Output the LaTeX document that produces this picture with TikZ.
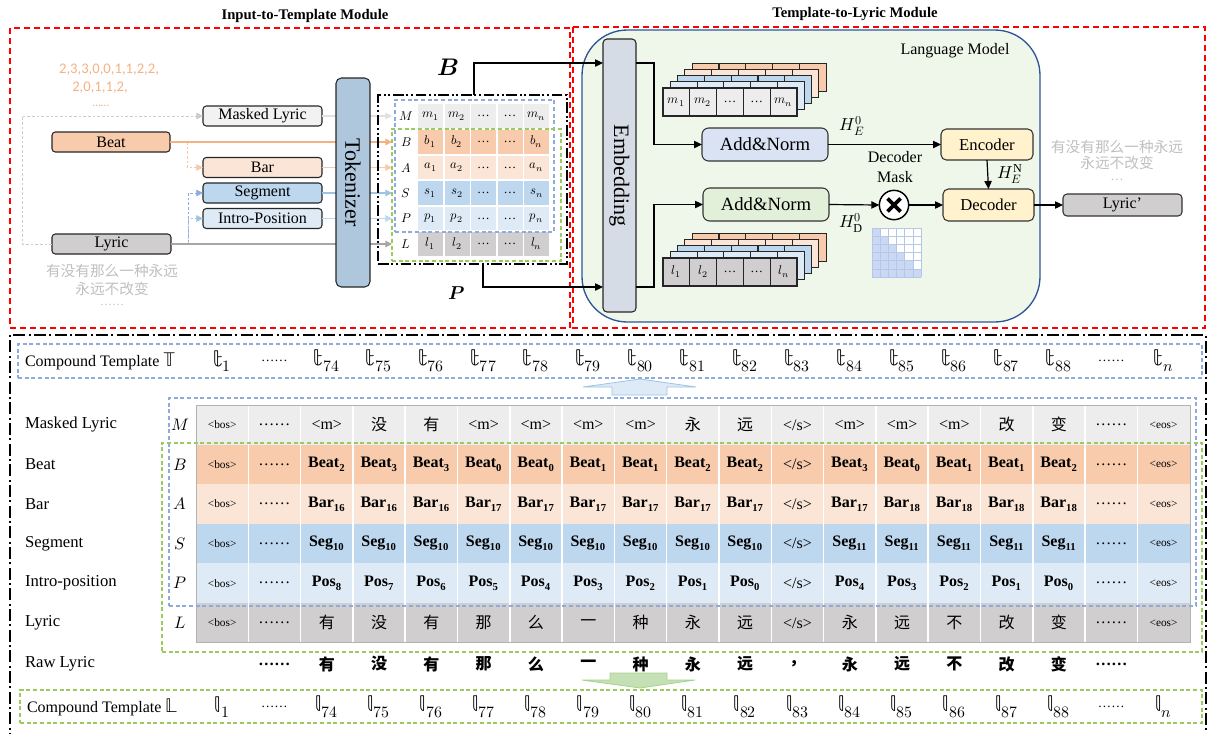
\documentclass[tikz,border=0pt]{standalone}
\usepackage{fontspec}
\usepackage{unicode-math}
\setmainfont{Liberation Serif}
\setmathfont{Latin Modern Math}
\newfontfamily\cjk{Noto Sans CJK SC}
\newfontfamily\calfont{Carlito}
\usetikzlibrary{arrows.meta,fit,calc}
\definecolor{cOr}{HTML}{F8CBAD}
\definecolor{cOrL}{HTML}{FBE5D6}
\definecolor{cOrT}{HTML}{F4B183}
\definecolor{cBl}{HTML}{BDD7EE}
\definecolor{cBlL}{HTML}{DEEBF7}
\definecolor{cBlD}{HTML}{8FAADC}
\definecolor{cBlM}{HTML}{9DC3E6}
\definecolor{cGrM}{HTML}{EDEDED}
\definecolor{cGrML}{HTML}{F2F2F2}
\definecolor{cGrL}{HTML}{D0CECE}
\definecolor{cTok}{HTML}{AFC7DD}
\definecolor{cEmb}{HTML}{D6DCE5}
\definecolor{cLM}{HTML}{EFF6EA}
\definecolor{cLMb}{HTML}{2F5597}
\definecolor{cANa}{HTML}{DAE3F3}
\definecolor{cANb}{HTML}{E2F0D9}
\definecolor{cEnc}{HTML}{FFF2CC}
\definecolor{cDashG}{HTML}{9BCB5F}
\definecolor{cArrDn}{HTML}{C5E0B4}
\definecolor{cArrDnB}{HTML}{A9D18E}
\definecolor{cMask}{HTML}{CAD8F4}
\definecolor{cMaskL}{HTML}{B4C7E7}
\definecolor{cGrT}{HTML}{BFBFBF}
\newcommand\zh[1]{{\cjk #1}}
\newcommand\zhb[1]{{\cjk\bfseries #1}}
\newcommand\tbos{{\fontsize{8.5}{9}\selectfont<bos>}}
\newcommand\teos{{\fontsize{8.5}{9}\selectfont<eos>}}
\newcommand\tes{</s>}
\newcommand\tmk{<m>}
\newcommand\tdots{……}
\newcommand\Bt[1]{\textbf{Beat\textsubscript{#1}}}
\newcommand\Ba[1]{\textbf{Bar\textsubscript{#1}}}
\newcommand\Sg[1]{\textbf{Seg\textsubscript{#1}}}
\newcommand\Ps[1]{\textbf{Pos\textsubscript{#1}}}
\newcommand\tabrow[3]{\foreach \c [count=\i] in {#3} {\node (#1\i) at ({196+52.3*(\i-0.5)},#2) {\c};}}
\begin{document}
\begin{tikzpicture}[x=0.75pt,y=-0.75pt,
  every node/.style={inner sep=0pt, outer sep=0pt},
  font=\fontsize{12}{14}\selectfont,
  wh/.style 2 args={minimum width=#1*0.75pt, minimum height=#2*0.75pt},
  bbox/.style={draw=black!85, line width=0.8pt, rounded corners=2.5pt, inner sep=0pt},
  tipa/.style={-{Triangle[length=5pt,width=5pt]}},
  arr/.style={draw=black, line width=0.9pt, -{Triangle[length=6pt,width=5.5pt]}},
  reddash/.style={draw=red, line width=1pt, dash pattern=on 4.5pt off 3pt},
  bdash/.style={draw=cBlD, line width=0.8pt, dash pattern=on 3pt off 2pt},
  gdash/.style={draw=cDashG, line width=0.9pt, dash pattern=on 3pt off 2pt},
  stk/.style={draw=black!85, line width=0.8pt},
  mcell/.style={font=\fontsize{9.5}{11}\selectfont},
  hlab/.style={font=\fontsize{13}{15}\selectfont}
]
\useasboundingbox (0,0) rectangle (1210,733);
% ---------------- top: titles and module frames
\node[font=\bfseries\fontsize{11}{13}\selectfont] (ttl1) at (305,16) {Input-to-Template Module};
\node[font=\bfseries\fontsize{11}{13}\selectfont] (ttl2) at (855,14) {Template-to-Lyric Module};
\draw[reddash] (10,28) rectangle (570,328);
\draw[reddash] (573,27) rectangle (1205,328);
% orange numbers
\node[font=\calfont\fontsize{11}{12}\selectfont, text=cOrT] (num1) at (109,70) {2,3,3,0,0,1,1,2,2,};
\node[font=\calfont\fontsize{11}{12}\selectfont, text=cOrT] (num2) at (100,88) {2,0,1,1,2,};
\node[font=\calfont\fontsize{9}{10}\selectfont, text=cOrT] (num3) at (101,106) {……};
% input boxes
\node[bbox, fill=cGrML, wh={119}{20}] (ml) at (262.5,116) {Masked Lyric};
\node[bbox, fill=cOr, wh={118}{20}] (beat) at (111,142) {Beat};
\node[bbox, fill=cOrL, wh={119}{20}] (bar) at (262.5,167.5) {Bar};
\node[bbox, fill=cBl, wh={119}{20}] (seg) at (262.5,193) {Segment};
\node[bbox, fill=cBlL, wh={119}{20}] (intro) at (262.5,218.5) {Intro-Position};
\node[bbox, fill=cGrL, wh={119}{20}] (lyric) at (111.5,244) {Lyric};
\node[font=\cjk\fontsize{11}{13}\selectfont, text=cGrT] (zl1) at (112,271) {有没有那么一种永远};
\node[font=\cjk\fontsize{11}{13}\selectfont, text=cGrT] (zl2) at (112,289) {永远不改变};
\node[font=\fontsize{9}{10}\selectfont, text=cGrT] (zl3) at (112,305) {……};
% arrow tips at the template
\coordinate (tipM) at (392,116);
\coordinate (tipB) at (392,142);
\coordinate (tipA) at (392,167.5);
\coordinate (tipS) at (392,193);
\coordinate (tipP) at (392,218.5);
\coordinate (tipL) at (392,244);
% connectors of the input module
\draw[draw=black!20, line width=0.6pt, dash pattern=on 2pt off 1.5pt, tipa] (lyric.west) -- ++(-30,0) |- (ml.west);
\draw[draw=cOrT, line width=0.6pt, dash pattern=on 2pt off 1.5pt, tipa, color=cOrT!70] ($(beat.east)+(17,0)$) |- (bar.west);
\draw[draw=cBlD, line width=0.6pt, dash pattern=on 2pt off 1.5pt, tipa] (lyric.east) -- ++(17,0) |- (seg.west);
\draw[draw=cBlM, line width=0.6pt, dash pattern=on 2pt off 1.5pt, tipa] ($(lyric.east)+(17,0)$) |- (intro.west);
\draw[draw=black!12, line width=0.8pt, tipa] (ml.east) -- (tipM);
\draw[draw=cOrT, line width=0.8pt, tipa] (beat.east) -- (tipB);
\draw[draw=cOr, line width=0.8pt, tipa] (bar.east) -- (tipA);
\draw[draw=cBlM, line width=0.8pt, tipa] (seg.east) -- (tipS);
\draw[draw=cBl, line width=0.8pt, tipa] (intro.east) -- (tipP);
\draw[draw=black!35, line width=0.8pt, tipa] (lyric.east) -- (tipL);
% tokenizer
\node[draw=black!85, line width=0.8pt, rounded corners=4pt, fill=cTok, wh={34}{209}] (tok) at (353,182.5) {};
\node[rotate=-90, font=\fontsize{16.5}{18}\selectfont] (toktxt) at (tok.center) {Tokenizer};
% template matrix
\foreach \r/\col/\yy in {0/cGrM/116,1/cOr/142,2/cOrL/167.5,3/cBl/193,4/cBlL/218.5,5/cGrL/244}
  \foreach \j in {0,...,4}
    \fill[\col] ({418+26.5*\j},{\yy-11.75}) rectangle ++(25,23.5);
\begin{scope}[mcell]
\foreach \t/\yy/\nm in {M/116/rM,B/142/rB,A/167.5/rA,S/193/rS,P/218.5/rP,L/244/rL}
  \node (\nm) at (406,\yy) {$\t$};
\foreach \a/\yy/\nm in {m/116/qM,b/142/qB,a/167.5/qA,s/193/qS,p/218.5/qP,l/244/qL}{
  \node (\nm1) at (430.5,\yy) {$\a_1$};
  \node (\nm2) at (457,\yy) {$\a_2$};
  \node (\nm3) at (483.5,\yy) {…};
  \node (\nm4) at (510,\yy) {…};
  \node (\nm5) at (536.5,\yy) {$\a_n$};}
\end{scope}
\node[bdash, fit={(395,100)(554,232)}] (tplB) {};
\node[gdash, fit={(392,129)(561,261)}] (tplP) {};
\node[draw=black, line width=1.6pt, dash pattern=on 8pt off 2pt on 1.5pt off 2pt on 1.5pt off 2pt, fit={(378,95)(567,264)}] (tpl) {};
\node[font=\fontsize{18}{20}\selectfont] (labB) at (448,67) {$\symbfit{B}$};
\node[font=\fontsize{14}{16}\selectfont] (labP) at (457,293) {$\symbfit{P}$};
% ---------------- language model
\draw[draw=cLMb, fill=cLM, line width=1pt, rounded corners=34pt] (582,30) rectangle (1040,322);
\node (lmtxt) at (955,51) {Language Model};
\node[draw=black!85, line width=0.8pt, rounded corners=3pt, fill=cEmb, wh={33}{273}] (emb) at (619.5,175.5) {};
\node[rotate=-90, font=\fontsize{16.5}{18}\selectfont] (embtxt) at (emb.center) {Embedding};
\coordinate (bsrc) at (474,95);
\coordinate (psrc) at (483,264);
\draw[arr] (bsrc) |- (emb.west |- 0,63);
\draw[arr] (psrc) |- (emb.west |- 0,287);
% stacks
\foreach \k/\col in {4/cOr,3/cOrL,2/cBl,1/cBlL}
  \foreach \j in {0,...,4}{
    \draw[stk, fill=\col] ({663+7.3*\k+26.8*\j},{88-6.2*\k}) rectangle ++(26.8,28);
    \draw[stk, fill=\col] ({663+7.3*\k+26.8*\j},{258-6.2*\k}) rectangle ++(26.8,28);}
\foreach \j in {0,...,4}{
  \draw[stk, fill=cGrM] ({663+26.8*\j},88) rectangle ++(26.8,28);
  \draw[stk, fill=cGrL] ({663+26.8*\j},258) rectangle ++(26.8,28);}
\begin{scope}[mcell]
\node (sm1) at (676.4,102) {$m_1$};
\node (sm2) at (703.2,102) {$m_2$};
\node (sm3) at (730,102) {…};
\node (sm4) at (756.8,102) {…};
\node (sm5) at (783.6,102) {$m_n$};
\node (sl1) at (676.4,272) {$l_1$};
\node (sl2) at (703.2,272) {$l_2$};
\node (sl3) at (730,272) {…};
\node (sl4) at (756.8,272) {…};
\node (sl5) at (783.6,272) {$l_n$};
\end{scope}
\node[draw=black!80, line width=0.8pt, rounded corners=5pt, fill=cANa, wh={126}{33}, font=\fontsize{14}{16}\selectfont] (an1) at (765,144.5) {Add\&Norm};
\node[draw=black!80, line width=0.8pt, rounded corners=5pt, fill=cANb, wh={126}{33}, font=\fontsize{14}{16}\selectfont] (an2) at (766,204.5) {Add\&Norm};
\draw[arr] (emb.east |- 0,63) -- (654,63) |- (an1.west);
\draw[arr] (emb.east |- 0,287) -- (654,287) |- (an2.west);
\node[draw=black!80, line width=0.8pt, rounded corners=4pt, fill=cEnc, wh={92}{31}, font=\fontsize{12.5}{14}\selectfont] (enc) at (987,144.5) {Encoder};
\node[draw=black!80, line width=0.8pt, rounded corners=4pt, fill=cEnc, wh={91}{32}, font=\fontsize{12.5}{14}\selectfont] (dec) at (988.5,205) {Decoder};
\node[draw=black, line width=1.1pt, circle, minimum size=22pt, fill=white] (mul) at (894,205) {};
\draw[line width=2.8pt] ($(mul)+(-6.5,-6.5)$) -- ($(mul)+(6.5,6.5)$);
\draw[line width=2.8pt] ($(mul)+(-6.5,6.5)$) -- ($(mul)+(6.5,-6.5)$);
\node[align=center, font=\fontsize{12}{14.5}\selectfont] (dmask) at (895,167) {Decoder\\Mask};
\node[draw=black!80, line width=0.8pt, rounded corners=3pt, fill=cGrL, wh={119}{22}] (lyr2) at (1122.5,205) {Lyric'};
\draw[arr] (an1.east) -- (enc.west);
\draw[arr] (an2.east) -- (mul.west);
\draw[arr] (mul.east) -- (dec.west);
\draw[arr] (enc.south) -- (dec.north);
\draw[arr] (dec.east) -- (lyr2.west);
\node[hlab] (he0) at (852,126) {$H_{E}^{0}$};
\node[hlab] (hd0) at (851,223) {$H_{\mathrm{D}}^{0}$};
\node[hlab] (hen) at (1010,174) {$H_{E}^{\mathrm{N}}$};
% mask grid
\fill[white] (872,228) rectangle (921.2,277.2);
\foreach \rr in {0,...,5}
  \foreach \cc in {0,...,5}{
    \pgfmathsetmacro{\ff}{\cc<=\rr ? 1 : 0}
    \ifdim\ff pt>0.5pt
      \fill[cMask] ({872+8.2*\cc},{228+8.2*\rr}) rectangle ++(8.2,8.2);
    \fi}
\foreach \g in {0,...,6}{
  \draw[cMaskL, line width=0.5pt] ({872+8.2*\g},228) -- ({872+8.2*\g},277.2);
  \draw[cMaskL, line width=0.5pt] (872,{228+8.2*\g}) -- (921.2,{228+8.2*\g});}
\node[font=\cjk\fontsize{11}{13}\selectfont, text=cGrT] (zr1) at (1117,147) {有没有那么一种永远};
\node[font=\cjk\fontsize{11}{13}\selectfont, text=cGrT] (zr2) at (1117,163) {永远不改变};
\node[font=\fontsize{10}{11}\selectfont, text=cGrT] (zr3) at (1117,180) {…};
% ---------------- bottom section
\draw[draw=black, line width=1.8pt, dash pattern=on 9pt off 2.5pt on 1.5pt off 2.5pt] (10,745) -- (10,335) -- (1206,335) -- (1206,745);
\node[bdash, fit={(18,344)(1202,378)}] (ctT) {};
\node[gdash, fit={(20,690)(1202,723)}] (ctL) {};
\node[anchor=west] (ctTt) at (25,361) {Compound Template {\fontsize{15}{16}\selectfont$\symbb{T}$}};
\node[anchor=west] (ctLt) at (27,707) {Compound Template {\fontsize{15}{16}\selectfont$\symbb{L}$}};
\begin{scope}[font=\fontsize{17}{19}\selectfont]
\foreach \c [count=\i] in {$\symbb{t}_{1}$,{\fontsize{10}{11}\selectfont ……},$\symbb{t}_{74}$,$\symbb{t}_{75}$,$\symbb{t}_{76}$,$\symbb{t}_{77}$,$\symbb{t}_{78}$,$\symbb{t}_{79}$,$\symbb{t}_{80}$,$\symbb{t}_{81}$,$\symbb{t}_{82}$,$\symbb{t}_{83}$,$\symbb{t}_{84}$,$\symbb{t}_{85}$,$\symbb{t}_{86}$,$\symbb{t}_{87}$,$\symbb{t}_{88}$,{\fontsize{10}{11}\selectfont ……},$\symbb{t}_{n}$}
  \node (tT\i) at ({196+52.3*(\i-0.5)},361) {\c};
\foreach \c [count=\i] in {$\symbb{l}_{1}$,{\fontsize{10}{11}\selectfont ……},$\symbb{l}_{74}$,$\symbb{l}_{75}$,$\symbb{l}_{76}$,$\symbb{l}_{77}$,$\symbb{l}_{78}$,$\symbb{l}_{79}$,$\symbb{l}_{80}$,$\symbb{l}_{81}$,$\symbb{l}_{82}$,$\symbb{l}_{83}$,$\symbb{l}_{84}$,$\symbb{l}_{85}$,$\symbb{l}_{86}$,$\symbb{l}_{87}$,$\symbb{l}_{88}$,{\fontsize{10}{11}\selectfont ……},$\symbb{l}_{n}$}
  \node (tL\i) at ({196+52.3*(\i-0.5)},707) {\c};
\end{scope}
% block arrows
\draw[draw=cBlM, fill=cBlL, line width=0.6pt] (612,395) -- (612,387) -- (583,387) -- (640,379) -- (696,387) -- (667,387) -- (667,395) -- cycle;
\draw[draw=cArrDnB, fill=cArrDn, line width=0.6pt] (610,673) -- (667,673) -- (667,680) -- (695,680) -- (640,688) -- (582,680) -- (610,680) -- cycle;
% table
\foreach \r/\col in {0/cGrM,1/cOr,2/cOrL,3/cBl,4/cBlL,5/cGrL}
  \fill[\col] (196,{405+39.6*\r}) rectangle (1190,{405+39.6*(\r+1)});
\foreach \i in {1,...,18}
  \draw[white, line width=1.1pt] ({196+52.3*\i},405) -- ({196+52.3*\i},642.6);
\draw[black!30, line width=0.5pt] (196,405) rectangle (1190,642.6);
\node[bdash, fit={(169,398)(1196,606)}] (tabB) {};
\node[gdash, fit={(162,443)(1202,652)}] (tabP) {};
\begin{scope}[font=\fontsize{12.5}{14}\selectfont]
\foreach \t/\yy/\nm in {Masked Lyric/424.8/lM,Beat/464.4/lB,Bar/504/lA,Segment/543.6/lS,Intro-position/583.2/lP,Lyric/622.8/lL,Raw Lyric/664/lR}
  \node[anchor=west] (\nm) at (25,\yy) {\t};
\foreach \t/\yy/\nm in {M/424.8/iM,B/464.4/iB,A/504/iA,S/543.6/iS,P/583.2/iP,L/622.8/iL}
  \node (\nm) at (180,\yy) {$\t$};
\end{scope}
\begin{scope}[font=\fontsize{12}{14}\selectfont]
\tabrow{cM}{424.8}{\tbos,\tdots,\tmk,\zh{没},\zh{有},\tmk,\tmk,\tmk,\tmk,\zh{永},\zh{远},\tes,\tmk,\tmk,\tmk,\zh{改},\zh{变},\tdots,\teos}
\tabrow{cB}{464.4}{\tbos,\tdots,\Bt2,\Bt3,\Bt3,\Bt0,\Bt0,\Bt1,\Bt1,\Bt2,\Bt2,\tes,\Bt3,\Bt0,\Bt1,\Bt1,\Bt2,\tdots,\teos}
\tabrow{cA}{504}{\tbos,\tdots,\Ba{16},\Ba{16},\Ba{16},\Ba{17},\Ba{17},\Ba{17},\Ba{17},\Ba{17},\Ba{17},\tes,\Ba{17},\Ba{18},\Ba{18},\Ba{18},\Ba{18},\tdots,\teos}
\tabrow{cS}{543.6}{\tbos,\tdots,\Sg{10},\Sg{10},\Sg{10},\Sg{10},\Sg{10},\Sg{10},\Sg{10},\Sg{10},\Sg{10},\tes,\Sg{11},\Sg{11},\Sg{11},\Sg{11},\Sg{11},\tdots,\teos}
\tabrow{cP}{583.2}{\tbos,\tdots,\Ps8,\Ps7,\Ps6,\Ps5,\Ps4,\Ps3,\Ps2,\Ps1,\Ps0,\tes,\Ps4,\Ps3,\Ps2,\Ps1,\Ps0,\tdots,\teos}
\tabrow{cL}{622.8}{\tbos,\tdots,\zh{有},\zh{没},\zh{有},\zh{那},\zh{么},\zh{一},\zh{种},\zh{永},\zh{远},\tes,\zh{永},\zh{远},\zh{不},\zh{改},\zh{变},\tdots,\teos}
\foreach \c [count=\i] in {\textbf{……},\zhb{有},\zhb{没},\zhb{有},\zhb{那},\zhb{么},\zhb{一},\zhb{种},\zhb{永},\zhb{远},\zhb{，},\zhb{永},\zhb{远},\zhb{不},\zhb{改},\zhb{变},\textbf{……}}
  \node (rw\i) at ({196+52.3*(\i+0.5)},664) {\c};
\end{scope}
\end{tikzpicture}
\end{document}
